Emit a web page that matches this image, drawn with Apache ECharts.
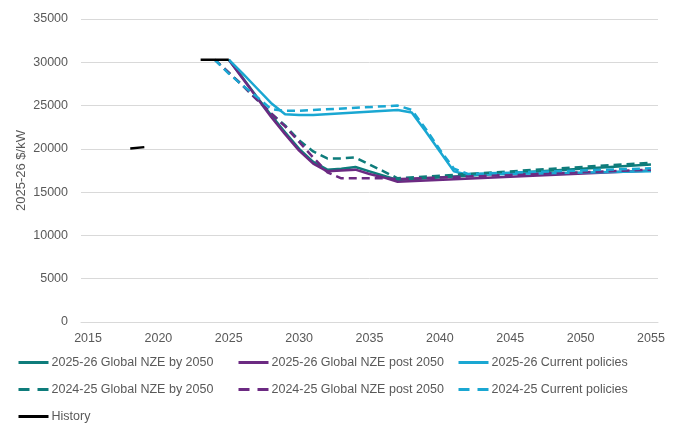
<!DOCTYPE html>
<html>
<head>
<meta charset="utf-8">
<script src="https://cdn.jsdelivr.net/npm/echarts@6/dist/echarts.min.js"></script>
<style>
html,body{margin:0;padding:0;background:#fff;}
#chart{width:679px;height:434px;}
</style>
</head>
<body>
<div id="chart"></div>
<script>
// Categories (x-axis years)
const years = ['2015','2016','2017','2018','2019','2020','2021','2022','2023','2024','2025','2026','2027','2028','2029','2030','2031','2032','2033','2034','2035','2036','2037','2038','2039','2040','2041','2042','2043','2044','2045','2046','2047','2048','2049','2050','2051','2052','2053','2054','2055'];

// Series values: [year, $/kW]
const nze2050_2526 = [[2025,30300],[2026,28200],[2027,26000],[2028,23900],[2029,21900],[2030,20000],[2031,18500],[2032,17600],[2033,17700],[2034,17900],[2035,17400],[2036,16900],[2037,16400],[2055,18200]];
const nzePost_2526 = [[2025,30300],[2026,28100],[2027,25900],[2028,23700],[2029,21700],[2030,19800],[2031,18300],[2032,17400],[2033,17500],[2034,17600],[2035,17100],[2036,16700],[2037,16200],[2055,17500]];
const cp_2526 = [[2025,30300],[2026,28700],[2027,27000],[2028,25300],[2029,24000],[2030,23900],[2031,23900],[2037,24500],[2038,24200],[2039,22000],[2040,19700],[2041,17400],[2042,17000],[2055,17400]];
const nze2050_2425 = [[2024,30300],[2025,28800],[2026,27300],[2027,25700],[2028,24100],[2029,22700],[2030,21000],[2031,19700],[2032,18900],[2033,18900],[2034,19000],[2035,18200],[2036,17400],[2037,16600],[2055,18400]];
const nzePost_2425 = [[2024,30300],[2025,28800],[2026,27300],[2027,25700],[2028,24100],[2029,22600],[2030,20800],[2031,19000],[2032,17300],[2033,16600],[2034,16600],[2035,16600],[2036,16600],[2037,16500],[2055,17600]];
const cp_2425 = [[2024,30300],[2025,28700],[2026,27300],[2027,26000],[2028,24600],[2029,24400],[2030,24400],[2037,25000],[2038,24500],[2039,22300],[2040,19900],[2041,17700],[2042,17100],[2055,17750]];
const history = [[2018,20050],[2019,20200],[2020,null],[2023,30300],[2024,30300],[2025,30300]];

const names = ['2025-26 Global NZE by 2050','2025-26 Global NZE post 2050','2025-26 Current policies','2024-25 Global NZE by 2050','2024-25 Global NZE post 2050','2024-25 Current policies','History'];

const TEAL = '#0E7C7B', PURPLE = '#6C2A82', BLUE = '#1AA7D2', BLACK = '#000000';
const TXT = '#595959';
const FONT = 'Liberation Sans';
const FS = 12.5;

function pairs(arr){ return arr.map(d => [String(d[0]), d[1]]); }
function line(name, data, color, dashed){
  return {
    name: name, type: 'line', data: pairs(data), symbol: 'none', showSymbol: false, connectNulls: false,
    lineStyle: {color: color, width: 2.5, type: dashed ? [8,5] : 'solid'},
    itemStyle: {color: color}, emphasis: {disabled: true}, animation: false
  };
}
function legItem(name, dashed){
  return dashed ? {name: name, lineStyle: {type: [11,8]}} : {name: name};
}

const legendBase = {
  orient: 'vertical', top: 356, padding: 0, itemWidth: 30, itemHeight: 12, itemGap: 14,
  textStyle: {color: TXT, fontFamily: FONT, fontSize: FS, padding: [0,0,0,-2]},
  itemStyle: {opacity: 0},
  lineStyle: {width: 3},
  selectedMode: false
};

const chart = echarts.init(document.getElementById('chart'), null, {renderer: 'canvas'});
chart.setOption({
  animation: false,
  textStyle: {fontFamily: FONT},
  grid: {left: 81, right: 21, top: 19, bottom: 112, containLabel: false},
  legend: [
    Object.assign({}, legendBase, {left: 17, data: [legItem(names[0]), legItem(names[3], true), legItem(names[6])]}),
    Object.assign({}, legendBase, {left: 237, data: [legItem(names[1]), legItem(names[4], true)]}),
    Object.assign({}, legendBase, {left: 457, data: [legItem(names[2]), legItem(names[5], true)]})
  ],
  xAxis: {
    type: 'category', data: years, boundaryGap: true,
    axisLine: {show: true, lineStyle: {color: '#D9D9D9', width: 1}},
    axisTick: {show: false},
    axisLabel: {interval: 4, color: TXT, fontFamily: FONT, fontSize: FS, margin: 10},
    splitLine: {show: false}
  },
  yAxis: {
    type: 'value', min: 0, max: 35000, interval: 5000,
    name: '2025-26 $/kW', nameLocation: 'middle', nameGap: 53, nameMoveOverlap: false,
    nameTextStyle: {color: TXT, fontFamily: FONT, fontSize: 13},
    axisLine: {show: false}, axisTick: {show: false},
    axisLabel: {color: TXT, fontFamily: FONT, fontSize: FS, margin: 13, formatter: v => String(v)},
    splitLine: {show: true, lineStyle: {color: '#D9D9D9', width: 1}}
  },
  series: [
    line(names[0], nze2050_2526, TEAL, false),
    line(names[1], nzePost_2526, PURPLE, false),
    line(names[2], cp_2526, BLUE, false),
    line(names[3], nze2050_2425, TEAL, true),
    line(names[4], nzePost_2425, PURPLE, true),
    line(names[5], cp_2425, BLUE, true),
    line(names[6], history, BLACK, false)
  ]
});
</script>
</body>
</html>
